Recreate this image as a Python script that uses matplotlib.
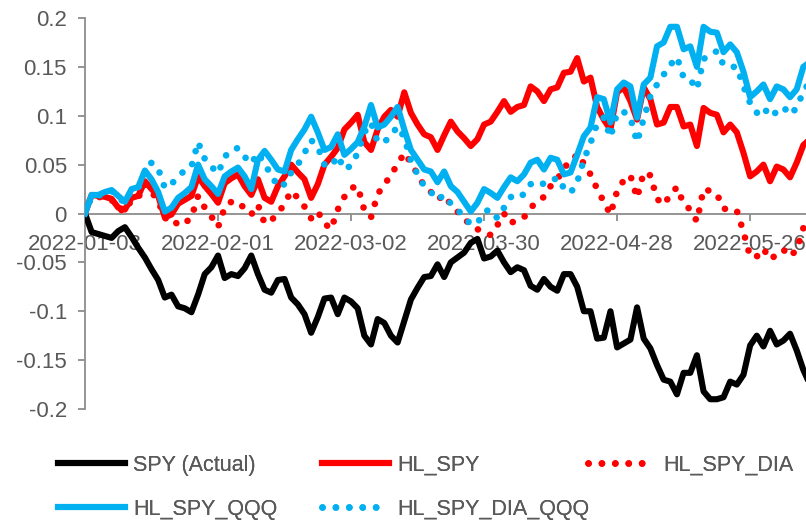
import matplotlib

matplotlib.use("Agg")
import matplotlib.pyplot as plt
import numpy as np
from matplotlib.lines import Line2D

# cumulative returns per trading day, starting 2022-01-03
spy = [
    0, -0.019, -0.021, -0.023, -0.025, -0.018, -0.014, -0.024, -0.035, -0.045,
    -0.057, -0.068, -0.086, -0.083, -0.095, -0.097, -0.101, -0.083, -0.062, -0.055,
    -0.043, -0.066, -0.062, -0.064, -0.056, -0.043, -0.062, -0.078, -0.081, -0.068,
    -0.067, -0.086, -0.093, -0.103, -0.122, -0.106, -0.087, -0.086, -0.103, -0.086,
    -0.09, -0.097, -0.125, -0.134, -0.108, -0.112, -0.125, -0.132, -0.11, -0.088,
    -0.076, -0.065, -0.064, -0.052, -0.065, -0.05, -0.045, -0.04, -0.03, -0.026,
    -0.046, -0.044, -0.038, -0.05, -0.06, -0.055, -0.058, -0.074, -0.078, -0.067,
    -0.075, -0.079, -0.062, -0.062, -0.075, -0.1, -0.1, -0.128, -0.127, -0.1,
    -0.137, -0.133, -0.129, -0.096, -0.128, -0.138, -0.155, -0.17, -0.172, -0.185,
    -0.163, -0.163, -0.145, -0.182, -0.19, -0.19, -0.188, -0.172, -0.175, -0.165,
    -0.135, -0.125, -0.136, -0.12, -0.134, -0.13, -0.123, -0.14, -0.16, -0.175,
]
hl_spy = [
    0, 0.019, 0.018, 0.017, 0.015, 0.006, 0.004, 0.016, 0.018, 0.033,
    0.025, 0.018, -0.004, -0.001, 0.01, 0.014, 0.018, 0.038, 0.028, 0.02,
    0.011, 0.031, 0.036, 0.04, 0.028, 0.019, 0.035, 0.016, 0.012, 0.028,
    0.038, 0.05, 0.042, 0.035, 0.016, 0.03, 0.05, 0.058, 0.067, 0.086,
    0.093, 0.101, 0.073, 0.065, 0.086, 0.099, 0.106, 0.099, 0.124, 0.103,
    0.091, 0.081, 0.078, 0.065, 0.08, 0.094, 0.084, 0.077, 0.069, 0.076,
    0.091, 0.094, 0.104, 0.115, 0.104, 0.109, 0.111, 0.13, 0.125, 0.115,
    0.127, 0.129, 0.144, 0.145, 0.159, 0.135, 0.139, 0.109, 0.096, 0.086,
    0.124, 0.129, 0.115, 0.096, 0.129, 0.117, 0.091, 0.093, 0.109, 0.109,
    0.089, 0.091, 0.069, 0.108, 0.103, 0.101, 0.083, 0.091, 0.083, 0.062,
    0.038, 0.043, 0.05, 0.033, 0.048, 0.045, 0.037, 0.052, 0.07, 0.076,
]
hl_spy_dia = [
    0, 0.018, 0.017, 0.016, 0.014, 0.005, 0.002, 0.014, 0.016, 0.03,
    0.022, 0.013, -0.005, -0.004, -0.012, -0.01, -0.004, 0.018, 0.006, -0.003,
    -0.014, 0.006, 0.012, 0.012, 0.005, -0.001, 0.009, -0.01, -0.007, 0.0,
    0.01, 0.023, 0.016, 0.007, -0.005, 0.002, -0.01, -0.016, 0.004, 0.017,
    0.026, 0.028, 0.003, -0.004, 0.02, 0.029, 0.04, 0.05, 0.062, 0.052,
    0.04, 0.028, 0.022, 0.014, 0.019, 0.009, 0.002, -0.006, -0.011, -0.016,
    -0.02, -0.022, -0.012, 0.0, -0.01, -0.006, -0.004, 0.006, 0.012, 0.017,
    0.028, 0.034, 0.048, 0.051, 0.061, 0.051, 0.04, 0.025, 0.012, -0.001,
    0.023, 0.034, 0.039, 0.016, 0.042, 0.039, 0.015, 0.009, 0.019, 0.027,
    0.01, 0.004, -0.008, 0.025, 0.023, 0.02, 0.005, 0.004, 0.003, -0.019,
    -0.044, -0.044, -0.036, -0.047, -0.042, -0.037, -0.044, -0.037, -0.015, -0.005,
]
hl_spy_qqq = [
    0, 0.019, 0.019, 0.022, 0.024, 0.018, 0.012, 0.025, 0.027, 0.044,
    0.035, 0.022, 0.002, 0.006, 0.016, 0.021, 0.027, 0.05, 0.035, 0.028,
    0.02, 0.038, 0.043, 0.047, 0.038, 0.025, 0.055, 0.064, 0.055, 0.045,
    0.043, 0.065, 0.076, 0.086, 0.099, 0.083, 0.065, 0.068, 0.081, 0.06,
    0.066, 0.073, 0.089, 0.111, 0.088, 0.091, 0.099, 0.109, 0.086, 0.065,
    0.055, 0.045, 0.043, 0.032, 0.043, 0.028, 0.022, 0.012, 0.002, 0.011,
    0.025, 0.021, 0.016, 0.027, 0.037, 0.033, 0.04, 0.052, 0.055, 0.045,
    0.057, 0.055, 0.04, 0.042, 0.06, 0.079, 0.088, 0.119, 0.117, 0.093,
    0.127, 0.134, 0.13, 0.098, 0.132, 0.139, 0.171, 0.175, 0.191, 0.191,
    0.168, 0.171, 0.15, 0.191, 0.186, 0.185, 0.165, 0.173, 0.165, 0.145,
    0.119, 0.125, 0.132, 0.117, 0.13, 0.127, 0.119, 0.127, 0.15, 0.155,
]
hl_spy_dia_qqq = [
    0, 0.018, 0.018, 0.021, 0.023, 0.016, 0.011, 0.024, 0.026, 0.042,
    0.052, 0.046, 0.026, 0.03, 0.038, 0.044, 0.048, 0.073, 0.056, 0.048,
    0.041, 0.058, 0.065, 0.067, 0.058, 0.051, 0.062, 0.05, 0.04, 0.027,
    0.03, 0.042, 0.05, 0.062, 0.075, 0.068, 0.05, 0.048, 0.059, 0.045,
    0.049, 0.062, 0.083, 0.093, 0.073, 0.073, 0.08, 0.089, 0.078, 0.054,
    0.04, 0.028, 0.022, 0.014, 0.019, 0.01, 0.004, -0.004, -0.011, -0.01,
    0.002, 0.004, -0.005, 0.006, 0.017, 0.015, 0.02, 0.03, 0.033, 0.03,
    0.032, 0.037, 0.026, 0.021, 0.032, 0.055, 0.072, 0.092, 0.098, 0.078,
    0.103, 0.104, 0.098, 0.073, 0.097, 0.12, 0.132, 0.142, 0.152, 0.16,
    0.139, 0.137, 0.127, 0.158, 0.163, 0.166, 0.152, 0.15, 0.15, 0.13,
    0.113, 0.103, 0.109, 0.099, 0.104, 0.109, 0.101, 0.108, 0.125, 0.135,
]
tick_labels = ["2022-01-03", "2022-02-01", "2022-03-02", "2022-03-30", "2022-04-28", "2022-05-26"]
tick_every = 20
y_ticks = [-0.2, -0.15, -0.1, -0.05, 0, 0.05, 0.1, 0.15, 0.2]
y_labels = ["-0.2", "-0.15", "-0.1", "-0.05", "0", "0.05", "0.1", "0.15", "0.2"]

plt.rcParams["font.family"] = ["Liberation Sans", "DejaVu Sans"]
GREY = "#595959"
AXIS = "#8c8c8c"
LW = 4.4
DOT_LW = 4.8
DOTS = (0, (0.01, 2.0))

fig = plt.figure(figsize=(8.06, 5.23), dpi=100)
ax = fig.add_axes([85 / 806, 1 - 409 / 523, 1 - 85 / 806, (409 - 18) / 523])

x = np.arange(len(spy))
series = [
    ("SPY (Actual)", spy, "black", False),
    ("HL_SPY", hl_spy, "#ff0000", False),
    ("HL_SPY_DIA", hl_spy_dia, "#ff0000", True),
    ("HL_SPY_QQQ", hl_spy_qqq, "#00b0f0", False),
    ("HL_SPY_DIA_QQQ", hl_spy_dia_qqq, "#00b0f0", True),
]


def style(dotted):
    if dotted:
        return dict(lw=DOT_LW, ls=DOTS, dash_capstyle="round")
    return dict(lw=LW, ls="-", solid_joinstyle="round")


for name, vals, color, dotted in series:
    ax.plot(x, vals, color=color, zorder=3, **style(dotted))

ax.set_xlim(0, 108.4)
ax.set_ylim(-0.2, 0.2)
ax.set_yticks(y_ticks)
ax.set_yticklabels(y_labels)
ax.set_xticks(np.arange(len(tick_labels)) * tick_every)
ax.set_xticklabels(tick_labels)

for side in ("top", "right"):
    ax.spines[side].set_visible(False)
ax.spines["bottom"].set_position(("data", 0))
for side in ("left", "bottom"):
    ax.spines[side].set_color(AXIS)
    ax.spines[side].set_linewidth(1.3)
    ax.spines[side].set_zorder(2)
ax.tick_params(axis="y", direction="out", length=5, width=1.3, color=AXIS,
               labelsize=16, labelcolor=GREY, pad=8)
ax.tick_params(axis="x", direction="out", length=5, width=1.3, color=AXIS,
               labelsize=16, labelcolor=GREY, pad=10)
for lab in ax.get_xticklabels():
    lab.set_zorder(1)

# legend laid out like Excel: two rows, fixed column slots
slots = {
    "SPY (Actual)": (58, 465),
    "HL_SPY": (322, 465),
    "HL_SPY_DIA": (588, 465),
    "HL_SPY_QQQ": (58, 509),
    "HL_SPY_DIA_QQQ": (322, 509),
}
for name, vals, color, dotted in series:
    px, py = slots[name]
    h = Line2D([], [], color=color, **style(dotted))
    leg = fig.legend([h], [name], loc="center left", bbox_to_anchor=(px / 806, 1 - py / 523),
                     frameon=False, fontsize=15.5, labelcolor=GREY, handlelength=3.1,
                     handletextpad=0.4, borderpad=0, borderaxespad=0)
    fig.add_artist(leg)

fig.savefig("out.png", dpi=100)
